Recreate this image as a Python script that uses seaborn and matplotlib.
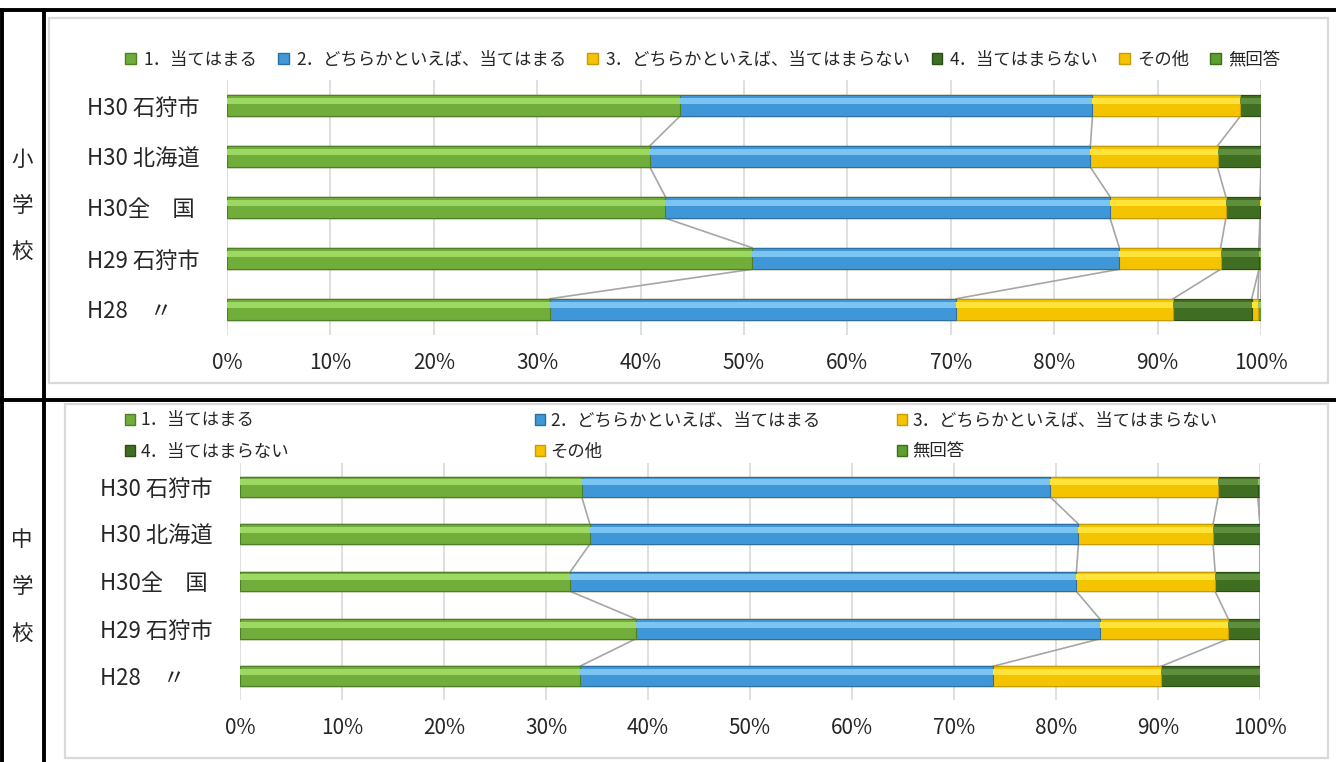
import numpy as np
import pandas as pd
import matplotlib
matplotlib.use("Agg")
import matplotlib.pyplot as plt
from matplotlib.patches import Patch, Rectangle
import seaborn as sns

W, H = 1336, 762

# --- data (percent) ---
rows = ["H30 石狩市", "H30 北海道", "H30全　国", "H29 石狩市", "H28　〃"]
series = ["1．当てはまる", "2．どちらかといえば、当てはまる",
          "3．どちらかといえば、当てはまらない", "4．当てはまらない", "その他", "無回答"]

# 小学校
elem_1 = [43.8, 40.9, 42.4, 50.8, 31.2]
elem_2 = [39.9, 42.6, 43.0, 35.5, 39.3]
elem_3 = [14.3, 12.3, 11.2, 9.8, 21.0]
elem_4 = [2.0, 4.2, 3.3, 3.7, 7.6]
elem_other = [0.0, 0.0, 0.1, 0.0, 0.6]
elem_na = [0.0, 0.0, 0.0, 0.2, 0.3]

# 中学校
mid_1 = [33.5, 34.3, 32.4, 38.8, 33.3]
mid_2 = [45.9, 47.9, 49.6, 45.5, 40.5]
mid_3 = [16.5, 13.2, 13.6, 12.6, 16.5]
mid_4 = [3.9, 4.6, 4.4, 3.1, 9.7]
mid_other = [0.0, 0.0, 0.0, 0.0, 0.0]
mid_na = [0.2, 0.0, 0.0, 0.0, 0.0]

xticks = list(range(0, 101, 10))

main_c = ["#70AD3A", "#3F97D8", "#F5C400", "#3F6D22", "#F5C400", "#5E9E2E"]
light_c = ["#9CD862", "#7CC4F2", "#FFE23A", "#5F8E3C", "#FFE23A", "#8CC956"]
edge_c = ["#4E7F26", "#2D6FA3", "#C89B00", "#2B4D16", "#C89B00", "#3F6D1C"]

sns.set_theme(style="white")
plt.rcParams['font.family'] = ['Noto Sans CJK JP', 'DejaVu Sans']

fig = plt.figure(figsize=(W / 100, H / 100), dpi=100)

# overlay for table borders and chart frames
ov = fig.add_axes([0, 0, 1, 1], zorder=-1)
ov.set_xlim(0, W)
ov.set_ylim(H, 0)
ov.axis("off")
ov.add_patch(Rectangle((49, 18), 1279, 365, fill=False, ec="#D9D9D9", lw=1.6))
ov.add_patch(Rectangle((65, 404), 1263, 354, fill=False, ec="#D9D9D9", lw=1.6))
ov.plot([0, W], [10, 10], color="black", lw=2.8)
ov.plot([0, W], [400, 400], color="black", lw=2.8)
ov.plot([1.5, 1.5], [10, H], color="black", lw=2.8)
ov.plot([43.5, 43.5], [10, H], color="black", lw=2.8)
for ch, y in zip("小学校", [160, 206, 252]):
    ov.text(22, y, ch, ha="center", va="center", fontsize=15.5)
for ch, y in zip("中学校", [540, 587, 634]):
    ov.text(22, y, ch, ha="center", va="center", fontsize=15.5)


def px_axes(left, top, right, bottom):
    return fig.add_axes([left / W, 1 - bottom / H, (right - left) / W, (bottom - top) / H])


def draw_chart(ax, cols, label_pad):
    df = pd.DataFrame(dict(zip(series, cols)), index=rows)
    cum = df.cumsum(axis=1)
    bw = 0.42
    # stacked bars: draw cumulative totals from the last series to the first
    for k in range(len(series) - 1, -1, -1):
        sns.barplot(x=cum.iloc[:, k].values, y=rows, order=rows, orient="h",
                    color=main_c[k], saturation=1, width=bw,
                    edgecolor=edge_c[k], linewidth=0.8, ax=ax, zorder=2)
    # bevel highlight on the upper part of each segment
    for k in range(len(series)):
        vals = df.iloc[:, k].values
        lefts = (cum.iloc[:, k] - df.iloc[:, k]).values
        ax.barh(np.arange(len(rows)) - bw * 0.22, vals, left=lefts, height=bw * 0.3,
                color=light_c[k], lw=0, zorder=3)
    # series lines between bars
    for k in range(len(series)):
        c = cum.iloc[:, k].values
        for i in range(len(rows) - 1):
            ax.plot([c[i], c[i + 1]], [i + bw / 2, i + 1 - bw / 2],
                    color="#A6A6A6", lw=1.2, zorder=1)
    ax.set_xlim(0, 100)
    ax.set_ylim(len(rows) - 0.5, -0.5)
    ax.set_xticks(xticks)
    ax.set_xticklabels([f"{t}%" for t in xticks], fontsize=15)
    ax.set_xlabel("")
    ax.set_ylabel("")
    ax.grid(axis="x", color="#D9D9D9", lw=1.2, zorder=0)
    ax.set_axisbelow(True)
    for s in ax.spines.values():
        s.set_visible(False)
    ax.tick_params(axis="x", length=0, pad=12)
    ax.tick_params(axis="y", length=0, pad=label_pad)
    for lab in ax.get_yticklabels():
        lab.set_horizontalalignment("left")
        lab.set_fontsize(16)
    ax.patch.set_alpha(0)


ax1 = px_axes(227, 80, 1261, 335)
draw_chart(ax1, [elem_1, elem_2, elem_3, elem_4, elem_other, elem_na], 101)

ax2 = px_axes(240, 463, 1260, 700)
draw_chart(ax2, [mid_1, mid_2, mid_3, mid_4, mid_other, mid_na], 101)

handles = [Patch(facecolor=main_c[k], edgecolor=edge_c[k], label=series[k])
           for k in range(len(series))]

fig.legend(handles=handles, ncol=6, loc="center", bbox_to_anchor=(703 / W, 1 - 60 / H),
           frameon=False, fontsize=12.5, handlelength=0.6, handleheight=0.6,
           handletextpad=0.45, columnspacing=1.2, borderpad=0)

for j, x in enumerate([125, 535, 897]):
    fig.legend(handles=[handles[j], handles[j + 3]], ncol=1, loc="center left",
               bbox_to_anchor=(x / W, 1 - 436 / H), frameon=False, fontsize=12.5,
               handlelength=0.6, handleheight=0.6, handletextpad=0.3,
               labelspacing=0.75, borderpad=0, borderaxespad=0)

fig.savefig("out.png", dpi=100)
